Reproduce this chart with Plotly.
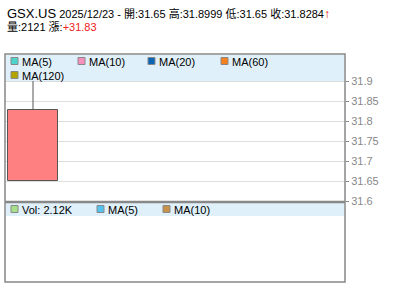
import plotly.graph_objects as go

# ---- data ----
symbol = "GSX.US"
date = "2025/12/23"
open_p = [31.65]
high_p = [31.8999]
low_p = [31.65]
close_p = [31.8284]
volume = [2121]
change = 31.83
price_ticks = [31.6, 31.65, 31.7, 31.75, 31.8, 31.85, 31.9]
ma_labels = ["MA(5)", "MA(10)", "MA(20)", "MA(60)", "MA(120)"]
ma_colors = ["#4fd4cc", "#f590bd", "#0a64b4", "#f5821e", "#b4a400"]
vol_labels = ["Vol: 2.12K", "MA(5)", "MA(10)"]
vol_colors = ["#a6e08a", "#55c3f0", "#c8924a"]

W, H = 400, 301
L, R, T, B = 5, 55, 54, 19
PW, PH = W - L - R, H - T - B
MAIN_BOTTOM = 202  # px


def xp(px):
    return (px - L) / PW


def yp(py):
    return (H - B - py) / PH


FONT = "Liberation Sans, Arial, Noto Sans CJK TC, sans-serif"

fig = go.Figure()

xs = list(range(len(open_p)))
# wicks (upper and lower parts, outside the body)
wx, wy = [], []
for i in xs:
    top = max(open_p[i], close_p[i])
    bot = min(open_p[i], close_p[i])
    wx += [i, i, None, i, i, None]
    wy += [top, high_p[i], None, low_p[i], bot, None]
fig.add_trace(go.Scatter(x=wx, y=wy, mode="lines", line=dict(color="#555555", width=1),
                         yaxis="y", hoverinfo="skip", showlegend=False, connectgaps=False))
# body
fig.add_trace(go.Bar(x=xs, base=open_p, y=[c - o for c, o in zip(close_p, open_p)],
                     width=1.0, marker=dict(color="#ff8080", line=dict(color="#555555", width=1)),
                     yaxis="y", showlegend=False))

main_dom = [yp(MAIN_BOTTOM), 1]
fig.update_layout(
    width=W, height=H, margin=dict(l=L, r=R, t=T, b=B),
    paper_bgcolor="white", plot_bgcolor="white",
    font=dict(family=FONT, size=11, color="#000"),
    showlegend=False, bargap=0,
    xaxis=dict(range=[-0.5 - 3 / 50, -0.56 + PW / 50], showgrid=False, showticklabels=False,
               zeroline=False, ticks="", fixedrange=True),
    yaxis=dict(domain=main_dom, range=[31.6 - 0.0025, 31.6 - 0.0025 + (MAIN_BOTTOM - T) / 400],
               side="right", tickvals=price_ticks, ticktext=[f"{v:g}" for v in price_ticks],
               showgrid=True, gridcolor="#dddddd", gridwidth=1, zeroline=False,
               ticks="outside", ticklen=3, tickcolor="#888888",
               tickfont=dict(size=11, color="#888888"), fixedrange=True),
    yaxis2=dict(domain=[0, yp(MAIN_BOTTOM)], range=[0, 1], showgrid=False, showticklabels=False,
                zeroline=False, fixedrange=True),
)

shapes = []
# legend bands
shapes.append(dict(type="rect", xref="paper", yref="paper", x0=xp(6), x1=xp(344), y0=yp(82), y1=yp(55),
                   fillcolor="#dff0fa", line=dict(width=0), layer="below"))
shapes.append(dict(type="rect", xref="paper", yref="paper", x0=xp(6), x1=xp(344), y0=yp(216), y1=yp(203),
                   fillcolor="#dff0fa", line=dict(width=0), layer="below"))
# borders
shapes.append(dict(type="rect", xref="paper", yref="paper", x0=0, x1=1, y0=0, y1=1,
                   line=dict(color="#888888", width=1.5), fillcolor="rgba(0,0,0,0)"))
shapes.append(dict(type="line", xref="paper", yref="paper", x0=0, x1=1, y0=yp(MAIN_BOTTOM), y1=yp(MAIN_BOTTOM),
                   line=dict(color="#888888", width=2.5)))

annotations = []
# legend squares + labels (main)
main_pos = [(11, 61), (78, 61), (148, 61), (221, 61), (11, 75)]
for (sx, sy), lab, col in zip(main_pos, ma_labels, ma_colors):
    shapes.append(dict(type="rect", xref="paper", yref="paper", x0=xp(sx), x1=xp(sx + 7),
                       y0=yp(sy + 3.5), y1=yp(sy - 3.5), fillcolor=col, line=dict(color="#888888", width=1)))
    annotations.append(dict(xref="paper", yref="paper", x=xp(sx + 9), y=yp(sy + 1), text=lab,
                            showarrow=False, xanchor="left", yanchor="middle",
                            font=dict(size=11, color="#000")))
vol_pos = [(11, 209), (97, 209), (163, 209)]
for (sx, sy), lab, col in zip(vol_pos, vol_labels, vol_colors):
    shapes.append(dict(type="rect", xref="paper", yref="paper", x0=xp(sx), x1=xp(sx + 7),
                       y0=yp(sy + 3.5), y1=yp(sy - 3.5), fillcolor=col, line=dict(color="#888888", width=1)))
    annotations.append(dict(xref="paper", yref="paper", x=xp(sx + 9), y=yp(sy + 1), text=lab,
                            showarrow=False, xanchor="left", yanchor="middle",
                            font=dict(size=11, color="#000")))

line1 = (f"<span style='font-size:13px'>{symbol}</span> {date} - 開:{open_p[0]:g} 高:{high_p[0]:g} "
         f"低:{low_p[0]:g} 收:{close_p[0]:g}<b><span style='color:#ee1111;font-size:12px'>↑</span></b>")
line2 = f"量:{volume[0]} 漲:<span style='color:#ee2222'>+{change:g}</span>"
annotations.append(dict(xref="paper", yref="paper", x=xp(5), y=yp(14), text=line1, showarrow=False,
                        xanchor="left", yanchor="middle", font=dict(size=11, color="#000")))
annotations.append(dict(xref="paper", yref="paper", x=xp(5), y=yp(27), text=line2, showarrow=False,
                        xanchor="left", yanchor="middle", font=dict(size=11, color="#000")))

fig.update_layout(shapes=shapes, annotations=annotations)
fig.write_html("out.html")
